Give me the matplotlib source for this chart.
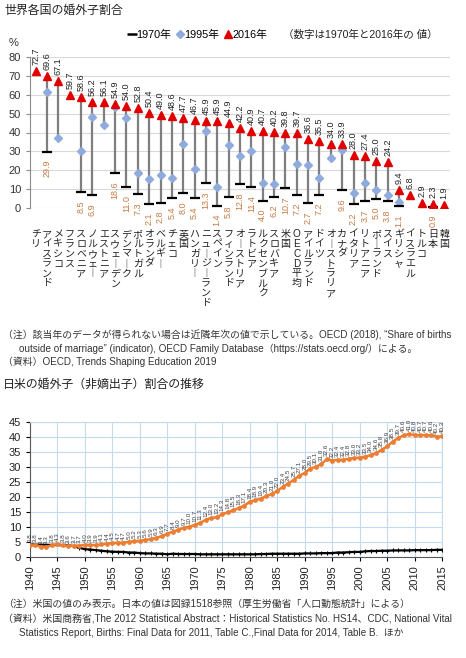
import matplotlib
matplotlib.use("Agg")
import matplotlib.pyplot as plt
from matplotlib.lines import Line2D
import numpy as np

plt.rcParams['font.family'] = ['Liberation Sans', 'Noto Sans CJK JP', 'DejaVu Sans']

# ---- 世界各国の婚外子割合 ----
countries = ["チリ", "アイスランド", "メキシコ", "フランス", "スロベニア", "ノルウェー",
             "エストニア", "スウェーデン", "デンマーク", "ポルトガル", "オランダ", "ベルギー",
             "チェコ", "英国", "ハンガリー", "ニュージーランド", "スペイン", "フィンランド",
             "オーストリア", "ラトビア", "ルクセンブルク", "スロバキア", "米国", "OECD平均",
             "アイルランド", "ドイツ", "オーストラリア", "カナダ", "イタリア", "リトアニア",
             "ポーランド", "スイス", "ギリシャ", "イスラエル", "トルコ", "日本", "韓国"]
v2016 = [72.7, 69.6, 67.1, 59.7, 58.6, 56.2, 56.1, 54.9, 54.0, 52.8, 50.4, 49.0,
         48.6, 47.7, 46.7, 45.9, 45.9, 44.9, 42.2, 40.9, 40.7, 40.2, 39.8, 39.7,
         36.6, 35.5, 34.0, 33.9, 28.0, 27.4, 25.0, 24.2, 9.4, 6.8, 2.9, 2.3, 1.9]
v1995 = [None, 61.6, 37.1, None, 30.0, 48.2, 44.0, 53.4, 47.6, 18.8, 15.3, 17.7,
         15.8, 33.9, 20.7, 40.9, 11.1, 33.4, 27.5, 30.1, 13.4, 12.7, 32.5, 23.5,
         22.6, 16.2, 26.6, 31.0, 8.2, 13.1, 9.9, 7.0, 3.5, None, None, None, None]
v1970 = [None, 29.9, None, None, 8.5, 6.9, None, 18.6, 11.0, 7.3, 2.1, 2.8,
         5.4, 8.0, 5.4, 13.3, 1.4, 5.8, 12.8, 11.4, 4.0, 6.2, 10.7, 7.2,
         2.7, 7.2, None, 9.6, 2.2, 3.7, 5.0, 3.8, 1.1, None, None, 0.9, None]

# ---- 日米の婚外子割合の推移 ----
us_years = list(range(1940, 2016))
us_vals = [3.8, 3.8, 3.4, 3.3, 3.8, 4.3, 3.8, 3.6, 3.7, 3.7,
           4.0, 3.9, 3.9, 4.1, 4.4, 4.5, 4.7, 4.7, 5.0, 5.2,
           5.3, 5.6, 5.9, 6.3, 6.9, 7.7, 8.4, 9.0, 9.7, 10.0,
           10.7, 11.3, 12.4, 13.0, 13.2, 14.3, 14.8, 15.5, 16.3, 17.1,
           18.4, 18.9, 19.4, 20.3, 21.0, 22.0, 23.4, 24.5, 25.7, 27.1,
           28.0, 29.5, 30.1, 31.0, 32.6, 32.2, 32.4, 32.4, 32.8, 33.0,
           33.2, 33.5, 34.0, 34.6, 35.8, 36.9, 38.5, 39.7, 40.6, 41.0,
           40.8, 40.7, 40.7, 40.6, 40.2, 40.3]
jp_years = [1940] + list(range(1947, 2016))
jp_vals = [4.1, 3.8, 3.5, 3.0,
           2.5, 2.4, 2.2, 2.0, 1.8, 1.7, 1.6, 1.6, 1.4, 1.4,
           1.2, 1.1, 1.1, 1.0, 1.0, 0.8, 1.0, 0.9, 0.9, 0.9,
           0.9, 0.8, 0.8, 0.8, 0.8, 0.8, 0.8, 0.8, 0.8, 0.8,
           0.8, 0.8, 0.9, 0.9, 1.0, 1.0, 1.0, 1.0, 1.0, 1.0,
           1.1, 1.1, 1.1, 1.2, 1.2, 1.2, 1.4, 1.4, 1.5, 1.6,
           1.6, 1.8, 1.9, 1.9, 2.0, 2.0, 2.1, 2.1, 2.1, 2.1,
           2.2, 2.2, 2.2, 2.2, 2.3, 2.3]

W, H = 466, 658
fig = plt.figure(figsize=(W / 100, H / 100), dpi=100)

def fx(px):
    return px / W

def fy(py):
    return 1 - py / H

def vertical(name):
    return "\n".join("︱" if c == "ー" else c for c in name)

# ================= top chart =================
ax = fig.add_axes([fx(30), fy(208.3), fx(420), (208.3 - 56.7) / H])
x = np.arange(len(countries))

for i in x:
    vals = [v for v in (v1970[i], v1995[i], v2016[i]) if v is not None]
    if len(vals) > 1:
        ax.vlines(i, min(vals), max(vals), color='#7f7f7f', lw=1.6, zorder=2)

x95 = [i for i in x if v1995[i] is not None]
ax.plot(x95, [v1995[i] for i in x95], 'D', color='#8faadc', ms=4.5, mec='#8faadc', zorder=3)
x70 = [i for i in x if v1970[i] is not None]
ax.plot(x70, [v1970[i] for i in x70], '_', color='black', ms=7.5, mew=1.6, zorder=4)
ax.plot(x, v2016, '^', color='#e00000', ms=5.8, zorder=5)

for i in x:
    ax.annotate(f"{v2016[i]:.1f}", (i, v2016[i]), xytext=(0, 6), textcoords='offset pixels',
                rotation=90, ha='center', va='bottom', fontsize=6.5, color='#222222')
    if v1970[i] is not None:
        ax.annotate(f"{v1970[i]:.1f}", (i, v1970[i]), xytext=(0, -8), textcoords='offset pixels',
                    rotation=90, ha='center', va='top', fontsize=6.5, color='#c77b43')

ax.set_xlim(-0.5, len(countries) - 0.5)
ax.set_ylim(0, 80)
ax.set_yticks(range(0, 81, 10))
ax.yaxis.grid(True, color='#d9d9d9', lw=0.8)
ax.set_axisbelow(True)
for s in ['top', 'right', 'bottom']:
    ax.spines[s].set_visible(False)
ax.spines['left'].set_color('#8c8c8c')
ax.tick_params(axis='y', labelsize=8, colors='#8c8c8c', labelcolor='#333333', length=3)
ax.set_xticks(x, labels=[vertical(c) for c in countries])
ax.tick_params(axis='x', length=0, pad=15, labelsize=7.2, labelcolor='#222222')
for t in ax.get_xticklabels():
    t.set_linespacing(0.98)

fig.text(fx(4), fy(11), "世界各国の婚外子割合", fontsize=8.6, va='center', color='#222222')
fig.text(fx(9), fy(43), "%", fontsize=8, va='center', color='#333333')

handles = [Line2D([], [], color='black', marker='_', ls='None', ms=7, mew=1.8),
           Line2D([], [], color='#8faadc', marker='D', ls='None', ms=4),
           Line2D([], [], color='#e00000', marker='^', ls='None', ms=5.5)]
fig.legend(handles, ["1970年", "1995年", "2016年"], loc='center', ncol=3,
           bbox_to_anchor=(fx(198), fy(35)), frameon=False, fontsize=7.8,
           handlelength=0.6, handletextpad=0.1, columnspacing=0.5)
fig.text(fx(283), fy(35), "（数字は1970年と2016年の 値）", fontsize=7.6, va='center', color='#222222')

note_kw = dict(fontsize=7.1, va='center', color='#333333')
fig.text(fx(3), fy(335), "（注）該当年のデータが得られない場合は近隣年次の値で示している。OECD (2018), “Share of births", **note_kw)
fig.text(fx(19), fy(348.5), "outside of marriage” (indicator), OECD Family Database（https://stats.oecd.org/）による。", **note_kw)
fig.text(fx(3), fy(362), "（資料）OECD, Trends Shaping Education 2019", **note_kw)

# ================= bottom chart =================
fig.text(fx(3), fy(385), "日米の婚外子（非嫡出子）割合の推移", fontsize=8.6, va='center', color='#222222')

bx = fig.add_axes([fx(30), fy(556.7), fx(412), (556.7 - 422.3) / H])
bx.plot(jp_years, jp_vals, '-', color='black', lw=1.6, marker='+', ms=3, mew=0.8, zorder=3)
bx.plot(us_years, us_vals, '-', color='#ed7d31', lw=1.8, marker='o', ms=2.4, zorder=4)
for yr, v in zip(us_years, us_vals):
    bx.annotate(f"{v:.1f}", (yr, v), xytext=(0, 3), textcoords='offset pixels',
                rotation=90, ha='center', va='bottom', fontsize=4.5, color='#404040')

bx.set_xlim(1940, 2015)
bx.set_ylim(0, 45)
bx.set_xticks(range(1940, 2016, 5))
bx.set_yticks(range(0, 46, 5))
bx.grid(True, color='#c5d9f1', lw=0.8)
bx.set_axisbelow(True)
for s in ['top', 'right']:
    bx.spines[s].set_color('#c5d9f1')
bx.spines['left'].set_color('#595959')
bx.spines['bottom'].set_color('#595959')
bx.tick_params(axis='x', labelrotation=90, labelsize=8, length=3, labelcolor='#222222')
bx.tick_params(axis='y', labelsize=8, length=3, labelcolor='#222222')

fig.text(fx(3), fy(604), "（注）米国の値のみ表示。日本の値は図録1518参照（厚生労働省「人口動態統計」による）", **note_kw)
fig.text(fx(3), fy(619), "（資料）米国商務省,The 2012 Statistical Abstract：Historical Statistics No. HS14、CDC, National Vital", **note_kw)
fig.text(fx(19), fy(633.5), "Statistics Report, Births: Final Data for 2011, Table C.,Final Data for 2014, Table B.  ほか", **note_kw)

fig.savefig("out.png", dpi=100)
